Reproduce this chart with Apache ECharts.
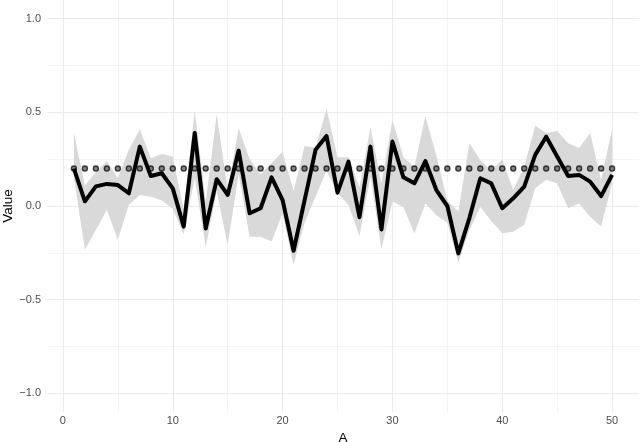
<!DOCTYPE html>
<html>
<head>
<meta charset="utf-8">
<script src="https://cdn.jsdelivr.net/npm/echarts@6.0.0/dist/echarts.min.js"></script>
<style>html,body{margin:0;padding:0;background:#fff;}#c{width:640px;height:442px;}</style>
</head>
<body>
<div id="c"></div>
<script>
const xs = [1,2,3,4,5,6,7,8,9,10,11,12,13,14,15,16,17,18,19,20,21,22,23,24,25,26,27,28,29,30,31,32,33,34,35,36,37,38,39,40,41,42,43,44,45,46,47,48,49,50];
const values = [0.20,0.025,0.105,0.118,0.112,0.068,0.317,0.16,0.175,0.094,-0.11,0.39,-0.12,0.143,0.059,0.296,-0.039,-0.012,0.153,0.032,-0.239,0.03,0.30,0.374,0.071,0.237,-0.06,0.317,-0.125,0.344,0.153,0.121,0.24,0.085,0.0,-0.253,-0.066,0.148,0.121,-0.012,0.041,0.103,0.273,0.37,0.264,0.16,0.166,0.13,0.053,0.166];
const upper = [0.39,0.11,0.18,0.24,0.15,0.30,0.41,0.255,0.278,0.264,-0.02,0.51,0.02,0.49,0.09,0.415,0.25,0.17,0.23,0.29,0.08,0.32,0.31,0.52,0.26,0.26,0.10,0.42,0.12,0.46,0.26,0.21,0.48,0.27,0.03,-0.03,0.335,0.246,0.19,0.25,0.085,0.21,0.43,0.39,0.40,0.335,0.31,0.39,0.14,0.41];
const lower = [0.15,-0.232,-0.128,-0.02,-0.18,0.005,0.059,0.05,0.03,-0.015,-0.15,0.15,-0.22,0.08,-0.21,0.17,-0.164,-0.164,-0.19,-0.04,-0.315,-0.09,0.05,0.19,0.07,0.005,-0.16,0.157,-0.23,0.024,-0.005,-0.147,0.013,-0.05,-0.09,-0.30,-0.13,-0.005,-0.08,-0.146,-0.137,-0.10,0.095,0.14,0.12,-0.012,0.014,-0.057,-0.11,0.12];
const dots = [0.2,0.2,0.2,0.2,0.2,0.2,0.2,0.2,0.2,0.2,0.2,0.2,0.2,0.2,0.2,0.2,0.2,0.2,0.2,0.2,0.2,0.2,0.2,0.2,0.2,0.2,0.2,0.2,0.2,0.2,0.2,0.2,0.2,0.2,0.2,0.2,0.2,0.2,0.2,0.2,0.2,0.2,0.2,0.2,0.2,0.2,0.2,0.2,0.2,0.2];
const xTicks = [0,10,20,30,40,50];
const xMinor = [5,15,25,35,45];
const yTicks = [-1,-0.5,0,0.5,1];
const yMinor = [-0.75,-0.25,0.25,0.75];

const font = 'Liberation Sans, Arial, sans-serif';
const grid = '#EBEBEB';
const chart = echarts.init(document.getElementById('c'), null, {renderer:'canvas'});
const fmtY = v => (v < 0 ? '\u2212' : '') + Math.abs(v).toFixed(1);

chart.setOption({
  animation: false,
  grid: {left: 47, right: 1, top: 0, bottom: 30, containLabel: false, outerBoundsMode: 'none'},
  xAxis: [
    {type:'value', min:-1.45, max:52.45,
     axisLine:{show:false}, axisTick:{show:false, customValues:xTicks},
     axisLabel:{customValues:xTicks, color:'#4D4D4D', fontSize:11, fontFamily:font, margin:3},
     splitLine:{show:true, lineStyle:{color:grid, width:1.1}},
     name:'A', nameLocation:'middle', nameGap:19, nameMoveOverlap:false,
     nameTextStyle:{color:'#000', fontSize:13.5, fontFamily:font}},
    {type:'value', min:-1.45, max:52.45, position:'bottom',
     axisLine:{show:false}, axisTick:{show:false, customValues:xMinor},
     axisLabel:{show:false}, splitLine:{show:true, lineStyle:{color:grid, width:0.55}}}
  ],
  yAxis: [
    {type:'value', min:-1.1, max:1.1,
     axisLine:{show:false}, axisTick:{show:false, customValues:yTicks},
     axisLabel:{customValues:yTicks, formatter:fmtY, color:'#4D4D4D', fontSize:11, fontFamily:font, margin:6},
     splitLine:{show:true, lineStyle:{color:grid, width:1.1}},
     name:'Value', nameLocation:'middle', nameGap:32, nameRotate:90, nameMoveOverlap:false,
     nameTextStyle:{color:'#000', fontSize:13.5, fontFamily:font}},
    {type:'value', min:-1.1, max:1.1, position:'left',
     axisLine:{show:false}, axisTick:{show:false, customValues:yMinor},
     axisLabel:{show:false}, splitLine:{show:true, lineStyle:{color:grid, width:0.55}}}
  ],
  series: [
    {type:'custom', name:'band', data: xs.map((x,i)=>[x, lower[i], upper[i]]),
     encode:{x:0, y:[1,2]}, silent:true,
     renderItem: (params, api) => {
       if (params.dataIndex !== 0) return null;
       const pts = [];
       for (let i = 0; i < xs.length; i++) pts.push(api.coord([xs[i], upper[i]]));
       for (let i = xs.length - 1; i >= 0; i--) pts.push(api.coord([xs[i], lower[i]]));
       return {type:'polygon', shape:{points:pts}, style:{fill:'#D9D9D9'}};
     }},
    {type:'scatter', name:'dots', data: xs.map((x,i)=>[x, dots[i]]), symbol:'circle', symbolSize:5,
     itemStyle:{color:'#666', borderColor:'#111', borderWidth:1.4}},
    {type:'line', name:'value', data: xs.map((x,i)=>[x, values[i]]), showSymbol:false, symbol:'none',
     lineStyle:{color:'#000', width:4, join:'round'}}
  ]
});
</script>
</body>
</html>
